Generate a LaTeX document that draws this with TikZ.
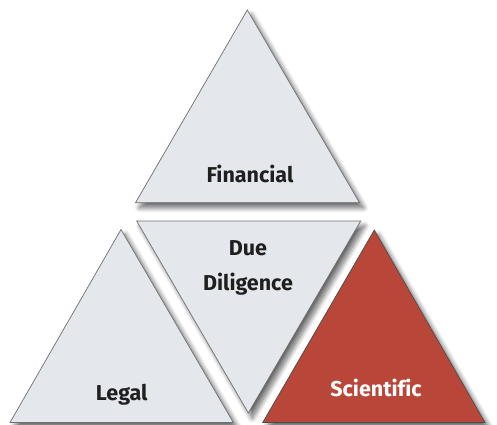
\documentclass[tikz,border=0pt]{standalone}
\usepackage{fontspec}
\setsansfont{Fira Sans}[Ligatures=NoCommon]
\usetikzlibrary{shadows.blur}
\definecolor{paleFill}{HTML}{E4E7EC}
\definecolor{brickRed}{HTML}{B8473A}
\definecolor{edgeGray}{HTML}{6E6E6E}
\tikzset{
    tri/.style={draw=edgeGray, line width=0.7pt, fill=paleFill, line join=miter,
        blur shadow={shadow xshift=4pt, shadow yshift=-5pt, shadow blur radius=5pt, shadow blur steps=10, shadow opacity=60}},
    redtri/.style={tri, fill=brickRed, draw=black!70},
    lbl/.style={anchor=base, font=\sffamily\bfseries\fontsize{21.5}{26}\selectfont, text=black!88},
    whitelbl/.style={lbl, text=white}
}

\begin{document}
\begin{tikzpicture}[x=1pt,y=-1pt]
    \useasboundingbox (0,0) rectangle (497,424);
    % corners, y downwards as in the picture
    \coordinate (FinTop) at (247.3,10);
    \coordinate (FinLeft) at (135.5,202.7);
    \coordinate (FinRight) at (359.5,202.7);
    \coordinate (DueLeft) at (136.7,221);
    \coordinate (DueRight) at (360.7,221);
    \coordinate (DueBottom) at (248.3,413);
    \coordinate (LegTop) at (121,229.5);
    \coordinate (LegLeft) at (10,422.5);
    \coordinate (LegRight) at (233.3,422.5);
    \coordinate (SciTop) at (374.3,230);
    \coordinate (SciLeft) at (262.7,422.5);
    \coordinate (SciRight) at (485,422.5);
    % triangles, back to front
    \draw[tri] (DueLeft) -- (DueRight) -- (DueBottom) -- cycle;
    \draw[tri] (FinTop) -- (FinRight) -- (FinLeft) -- cycle;
    \draw[tri] (LegTop) -- (LegRight) -- (LegLeft) -- cycle;
    \draw[redtri] (SciTop) -- (SciRight) -- (SciLeft) -- cycle;
    % labels
    \node[lbl] (financial) at (250,182.7) {Financial};
    \node[lbl] (due) at (248,255) {Due};
    \node[lbl] (diligence) at (248,290) {Diligence};
    \node[lbl] (legal) at (121.7,400) {Legal};
    \node[whitelbl] (scientific) at (376,396.3) {Scientific};
\end{tikzpicture}
\end{document}
